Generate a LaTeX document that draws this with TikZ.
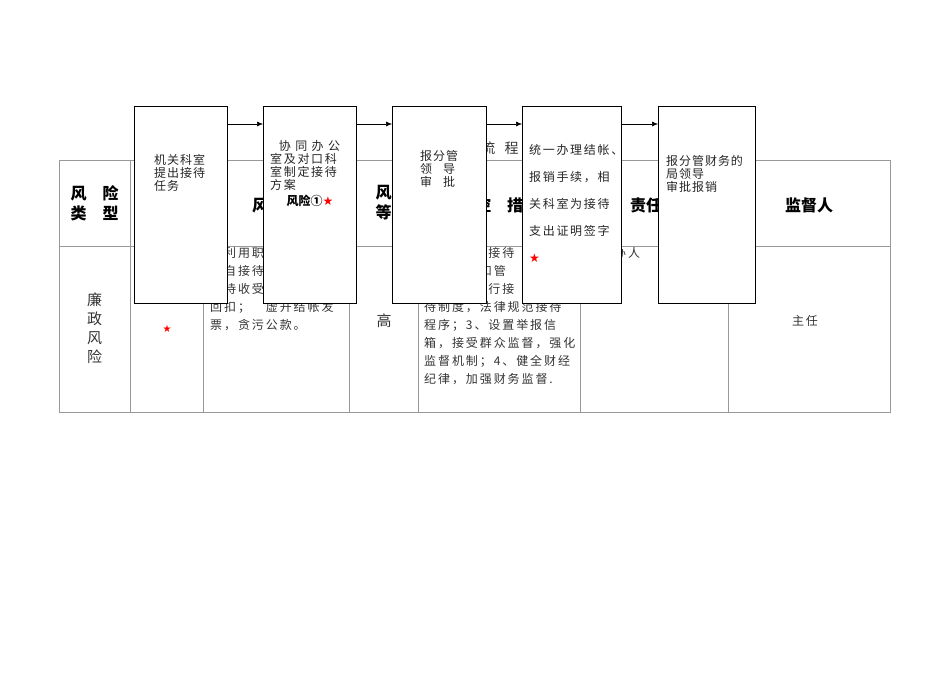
\documentclass[tikz,border=0pt]{standalone}
\usepackage{fontspec}
\setmainfont{Noto Sans CJK SC}
\newfontfamily\lsA[LetterSpace=16]{Noto Sans CJK SC}
\newfontfamily\lsB[LetterSpace=8]{Noto Sans CJK SC}
\newfontfamily\lsC[LetterSpace=14]{Noto Sans CJK SC}
\newfontfamily\symf{DejaVu Sans}
\usetikzlibrary{arrows.meta}
\tikzset{
 grid/.style={draw=gray!80,line width=0.9pt},
 flowbox/.style={draw=black,line width=0.8pt,fill=white},
 cell/.style={font=\lsA\fontsize{12}{18}\selectfont,color=black!80,align=left,inner sep=0pt},
 head/.style={font=\fontsize{16}{20}\selectfont\bfseries,inner sep=0pt},
 btxt/.style={font=\lsB\fontsize{12}{13}\selectfont,color=black!85,align=left,inner sep=0pt,anchor=north west},
 flowarr/.style={-{Latex[length=6pt,width=5pt]},line width=0.6pt}
}
\newcommand{\rstar}{{\symf\textcolor{red}{★}}}
\begin{document}
\begin{tikzpicture}[x=1pt,y=-1pt]
\useasboundingbox (0,0) rectangle (950,672);
% table
\draw[grid] (59,160) rectangle (890,412);
\draw[grid] (59,246) -- (890,246);
\foreach \x in {130,203,349,418,580,728} \draw[grid] (\x,160) -- (\x,412);
% headers
\node[head,align=center] (h1) at (94.5,203) {风\quad 险\\类\quad 型};
\node[head] (h3) at (276,205) {风\quad 险};
\node[head,align=center] (h4) at (383.5,203) {风\\等};
\node[head] (h5) at (499,205) {防\quad 控\quad 措\quad 施};
\node[head] (h6) at (654,205) {责任人};
\node[head] (h7) at (809,205) {监督人};
\node[cell,font=\fontsize{14}{18}\selectfont] (lc) at (500,148) {流\ \ \ 程};
% body
\node[cell,align=center,font=\fontsize{15}{19}\selectfont] (b1) at (94.5,328) {廉\\政\\风\\险};
\node (b2) at (167,329) {\rstar};
\node[cell,anchor=north west] (b3) at (210,247) {　利用职务之\\擅自接待，私\\接待收受客户\\回扣；　虚开结帐发\\票，贪污公款。};
\node[cell,font=\fontsize{15}{18}\selectfont] (b4) at (384,321) {高};
\node[cell,anchor=north west] (b5) at (424,247) {1、加强对接待\\员的教育和管\\2、严格执行接\\待制度，法律规范接待\\程序；3、设置举报信\\箱，接受群众监督，强化\\监督机制；4、健全财经\\纪律，加强财务监督.};
\node[cell,anchor=north west] (b6) at (600,247) {经办人};
\node[cell] (b7) at (805,321) {主任};
% flow boxes
\node[flowbox,minimum width=93pt,minimum height=197pt,anchor=north west] (f1) at (134,106) {};
\node[flowbox,minimum width=93pt,minimum height=197pt,anchor=north west] (f2) at (263,106) {};
\node[flowbox,minimum width=94pt,minimum height=197pt,anchor=north west] (f3) at (392,106) {};
\node[flowbox,minimum width=99pt,minimum height=197pt,anchor=north west] (f4) at (522,106) {};
\node[flowbox,minimum width=97pt,minimum height=197pt,anchor=north west] (f5) at (658,106) {};
\node[btxt] (t1) at (154,154) {机关科室\\提出接待\\任务};
\node[btxt,font=\lsC\fontsize{12}{13}\selectfont] (t2) at (270,140) {\ \ 协\ 同\ 办\ 公\\室及对口科\\室制定接待\\方案};
\node[font=\fontsize{12}{14}\selectfont\bfseries] (t2b) at (310,201) {风险①\rstar};
\node[btxt] (t3) at (420,150) {报分管\\领\ \ \ 导\\审\ \ \ 批};
\node[btxt,font=\lsC\fontsize{12}{27}\selectfont] (t4) at (529,144) {统一办理结帐、\\报销手续，相\\关科室为接待\\支出证明签字\\\rstar};
\node[btxt] (t5) at (666,155) {报分管财务的\\局领导\\审批报销};
\foreach \a/\b in {f1/f2,f2/f3,f3/f4,f4/f5}
  \draw[flowarr] (\a.east |- 0,124) -- (\b.west |- 0,124);
\end{tikzpicture}
\end{document}
